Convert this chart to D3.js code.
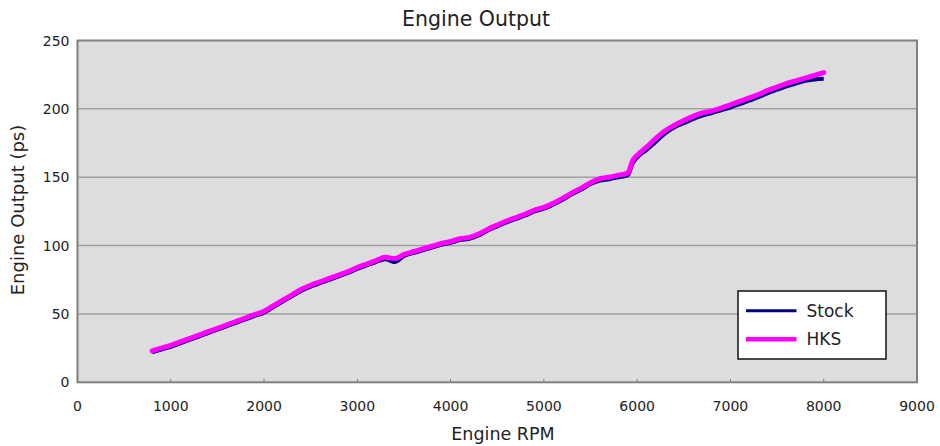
<!DOCTYPE html>
<html><head><meta charset="utf-8">
<script src="https://cdn.jsdelivr.net/npm/d3@7"></script>
<style>body{margin:0;background:#fff;} text{font-family:"DejaVu Sans",Verdana,sans-serif;fill:#222;}</style>
</head><body>
<svg id="c" width="940" height="446"></svg>
<script>
const rpm = [800,900,1000,1100,1200,1300,1400,1500,1600,1700,1800,1900,2000,2100,2200,2300,2400,2500,2600,2700,2800,2900,3000,3100,3200,3300,3400,3500,3600,3700,3800,3900,4000,4100,4200,4300,4400,4500,4600,4700,4800,4900,5000,5100,5200,5300,5400,5500,5600,5700,5800,5900,5950,6000,6100,6200,6300,6400,6500,6600,6700,6800,6900,7000,7100,7200,7300,7400,7500,7600,7700,7800,7900,8000];
const hks = [23,25,27,29.5,32,34.5,37,39.5,42,44.5,47,49.5,52,56,60,64,68,71,73.5,76,78.5,81,84,86.5,89,91.5,90.5,93.5,95.5,97.5,99.5,101.5,103,105,106,108.5,112,115,118,120.5,123,126,128,131,134.5,138.5,142,146,149,150,151.5,153,162,166,172,178.5,184,188,191.5,194.5,197,198.5,200.5,203,205.5,208,210.5,213.5,216,218.5,220.5,222.5,224.5,226.5];
const stock = [22,24,26,28.5,31,33.5,36,38.5,41,43.5,46,48.5,51,55,59,63,67,70,72.5,75,77.5,80,83,85.5,88,90,88,92.5,94.5,96.5,98.5,100.5,102,104,105,107.5,111,114,117,119.5,122,125,127,130,133.5,137.5,141,145,147.5,148.5,150,151.5,160,164.5,170,176,182,186.5,189.5,192.5,195,197,199,201,203.5,206,208.5,211.5,214,216.5,218.5,220.5,221.5,222];
const seriesNames = ["Stock","HKS"];
const seriesColors = ["#000080","#ff00ff"];
const xTicks = [0,1000,2000,3000,4000,5000,6000,7000,8000,9000];
const yTicks = [0,50,100,150,200,250];

const svg = d3.select("#c");
const L=77.5, R=917, T=40.5, B=382.3;
const x = d3.scaleLinear().domain([0,9000]).range([L,R]);
const y = d3.scaleLinear().domain([0,250]).range([B,T]);

svg.append("rect").attr("x",L).attr("y",T).attr("width",R-L).attr("height",B-T).attr("fill","#dddddd");
svg.append("g").selectAll("line").data(yTicks.filter(d=>d>0&&d<250)).join("line")
  .attr("x1",L).attr("x2",R).attr("y1",d=>y(d)).attr("y2",d=>y(d))
  .attr("stroke","#a0a0a0").attr("stroke-width",1.5);
svg.append("g").selectAll("line").data(xTicks.filter(d=>d>0&&d<9000)).join("line")
  .attr("x1",d=>x(d)).attr("x2",d=>x(d)).attr("y1",B).attr("y2",B-3.5)
  .attr("stroke","#808080").attr("stroke-width",1);
svg.append("rect").attr("x",L).attr("y",T).attr("width",R-L).attr("height",B-T)
  .attr("fill","none").attr("stroke","#808080").attr("stroke-width",2);

svg.append("g").selectAll("text").data(xTicks).join("text")
  .attr("x",d=>x(d)).attr("y",B+29).attr("text-anchor","middle").attr("font-size",14).text(d=>d);
svg.append("g").selectAll("text").data(yTicks).join("text")
  .attr("x",L-8).attr("y",d=>y(d)+5).attr("text-anchor","end").attr("font-size",14).text(d=>d);

const pts = s => rpm.map((r,i)=>[r,s[i]]);
const line = d3.line().x(d=>x(d[0])).y(d=>y(d[1])).curve(d3.curveMonotoneX);
svg.append("path").datum(pts(stock)).attr("d",line).attr("fill","none")
  .attr("stroke",seriesColors[0]).attr("stroke-width",4).attr("stroke-linejoin","round");
svg.append("path").datum(pts(hks)).attr("d",line).attr("fill","none")
  .attr("stroke",seriesColors[1]).attr("stroke-width",5).attr("stroke-linejoin","round").attr("stroke-linecap","round");

svg.append("text").attr("x",476).attr("y",26).attr("text-anchor","middle").attr("font-size",20.5).text("Engine Output");
svg.append("text").attr("x",503).attr("y",440).attr("text-anchor","middle").attr("font-size",17.5).text("Engine RPM");
svg.append("text").attr("transform","translate(24,210) rotate(-90)").attr("text-anchor","middle").attr("font-size",18).text("Engine Output (ps)");

const lg = svg.append("g");
lg.append("rect").attr("x",738).attr("y",291).attr("width",148).attr("height",68).attr("fill","#fff").attr("stroke","#111").attr("stroke-width",1.5);
seriesNames.forEach((n,i)=>{
  const yy = [310.7,339.3][i];
  lg.append("line").attr("x1",746).attr("x2",796.5).attr("y1",yy).attr("y2",yy)
    .attr("stroke",seriesColors[i]).attr("stroke-width",i?4.5:3);
  lg.append("text").attr("x",806.5).attr("y",yy+6).attr("font-size",17).text(n);
});
</script>
</body></html>
